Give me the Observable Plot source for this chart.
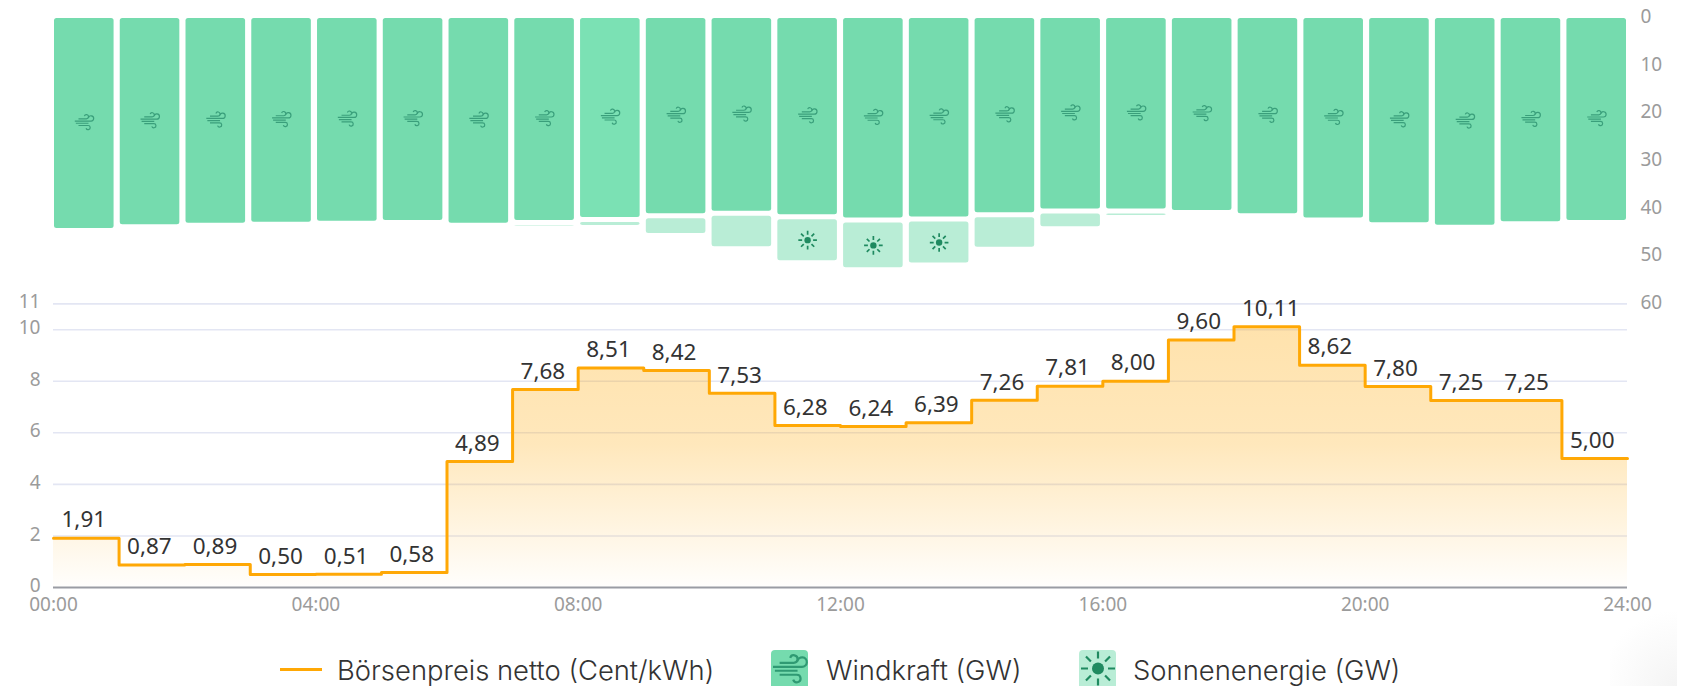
<!DOCTYPE html>
<html lang="de">
<head>
<meta charset="utf-8">
<script src="https://cdn.jsdelivr.net/npm/d3@7"></script>
<script src="https://cdn.jsdelivr.net/npm/@observablehq/plot@0.6"></script>
<style>
  html, body { margin: 0; padding: 0; background: #fff; }
  #chart { position: relative; width: 1688px; height: 686px; overflow: hidden; font-family: "Noto Sans", sans-serif; }
  #chart svg { display: block; }
  #top, #bottom { position: absolute; left: 0; }
  #top { top: 0; }
  #bottom { top: 290px; }
  .lg { position: absolute; top: 650px; height: 40px; line-height: 40px; font-size: 27.4px; font-weight: 300; color: #333; white-space: nowrap; font-family: Inter, sans-serif; }
  .ic { position: absolute; top: 650px; width: 37px; height: 40px; border-radius: 4px; }
  #corner { position: absolute; left: 1610px; top: 610px; width: 67px; height: 76px; background: radial-gradient(circle at 100% 100%, #f4f4f4 0, #fff 75%); }
</style>
</head>
<body>
<div id="chart">
  <div id="corner"></div>
  <div id="top"></div>
  <div id="bottom"></div>
</div>
<script>
const hours = d3.range(24);
const priceValues = [1.91, 0.87, 0.89, 0.50, 0.51, 0.58, 4.89, 7.68, 8.51, 8.42, 7.53, 6.28, 6.24, 6.39, 7.26, 7.81, 8.00, 9.60, 10.11, 8.62, 7.80, 7.25, 7.25, 5.00];
const windValues = [44.1, 43.3, 43.0, 42.8, 42.6, 42.4, 43.0, 42.4, 41.8, 41.0, 40.5, 41.2, 41.9, 41.7, 40.8, 40.0, 40.0, 40.3, 41.0, 41.9, 42.9, 43.4, 42.7, 42.4];
const solarValues = [0, 0, 0, 0, 0, 0, 0, 0.15, 0.6, 3.1, 6.4, 8.6, 9.4, 8.6, 6.2, 2.7, 0.3, 0, 0, 0, 0, 0, 0, 0];
const priceTicks = [0, 2, 4, 6, 8, 10, 11];
const gwTicks = [0, 10, 20, 30, 40, 50, 60];
const timeTicks = [0, 4, 8, 12, 16, 20, 24];
const legendItems = ["Börsenpreis netto (Cent/kWh)", "Windkraft (GW)", "Sonnenenergie (GW)"];

const WIND = "#75dbae", WIND_HI = "#7be1b4", SOLAR = "#b9edd6", ORANGE = "#ffa805";
const FONT = '"Noto Sans", sans-serif';

const rows = hours.map(h => ({h, wind: windValues[h], solar: solarValues[h], price: priceValues[h]}));
const solarRows = rows.filter(d => d.solar > 0);

// Icon shapes as d3 symbol types
const windSymbol = {draw(c, size) {
  const k = Math.sqrt(size / Math.PI) / 9;
  c.moveTo(-5.5 * k, -3 * k); c.lineTo(2 * k, -3 * k);
  c.arc(2 * k, -5 * k, 2 * k, Math.PI / 2, -Math.PI * 0.9, true);
  c.moveTo(-9 * k, -0.9 * k); c.lineTo(6.4 * k, -0.9 * k);
  c.arc(6.4 * k, -3.4 * k, 2.5 * k, Math.PI / 2, -Math.PI * 0.95, true);
  c.moveTo(-8 * k, 1.2 * k); c.lineTo(4 * k, 1.2 * k);
  c.moveTo(-5.5 * k, 3.3 * k); c.lineTo(3.6 * k, 3.3 * k);
  c.arc(3.6 * k, 5.3 * k, 2 * k, -Math.PI / 2, Math.PI * 0.9, false);
}};
const sunSymbol = {draw(c, size) {
  const k = Math.sqrt(size / Math.PI) / 9;
  for (let i = 0; i < 8; ++i) {
    const a = i * Math.PI / 4, s = Math.sin(a), o = Math.cos(a);
    c.moveTo(5.3 * k * o, 5.3 * k * s);
    c.lineTo(9 * k * o, 9 * k * s);
  }
}};

const topPlot = Plot.plot({
  width: 1688, height: 320,
  marginTop: 18, marginBottom: 16.3, marginLeft: 54, marginRight: 62,
  style: {fontFamily: FONT, background: "transparent", overflow: "visible"},
  x: {type: "band", domain: hours, paddingInner: 0.094, paddingOuter: 0, round: false, axis: null},
  y: {domain: [0, 60], reverse: true, axis: null},
  marks: [
    Plot.barY(rows, {x: "h", y1: 0, y2: "wind", fill: d => d.h === 8 ? WIND_HI : WIND, rx: 2.5}),
    Plot.barY(solarRows, {x: "h", y1: "wind", y2: d => d.wind + d.solar, dy: 5, fill: SOLAR, rx: 2.5}),
    Plot.dot(rows, {x: "h", y: d => d.wind / 2, dy: -1.5, symbol: windSymbol, r: 9.5, fill: "none", stroke: "#3a9f7b", strokeWidth: 1.2}),
    Plot.dot(solarRows.filter(d => d.solar >= 8), {x: "h", y: d => d.wind + d.solar / 2, dy: 5, symbol: sunSymbol, r: 9.3, fill: "none", stroke: "#1f8a60", strokeWidth: 1.7}),
    Plot.dot(solarRows.filter(d => d.solar >= 8), {x: "h", y: d => d.wind + d.solar / 2, dy: 5, r: 3.2, fill: "#1f8a60"}),
    Plot.axisY(gwTicks, {anchor: "right", tickSize: 0, tickPadding: 14, dy: -1.5, fontSize: 19, fill: "#9b9b9b", label: null, tickFormat: d => d})
  ]
});
document.getElementById("top").append(topPlot);

const gradient = () => {
  const defs = d3.create("svg:defs");
  const g = defs.append("linearGradient").attr("id", "priceFill").attr("x1", 0).attr("x2", 0).attr("y1", 0).attr("y2", 1);
  [[0, 0.33], [0.45, 0.27], [0.75, 0.13], [1, 0.01]].forEach(([o, a]) =>
    g.append("stop").attr("offset", o).attr("stop-color", ORANGE).attr("stop-opacity", a));
  return defs.node();
};
const stepRows = [...rows, {h: 24, price: priceValues[23]}];

const bottomPlot = Plot.plot({
  width: 1688, height: 340,
  marginTop: 13.4, marginBottom: 43, marginLeft: 53, marginRight: 61,
  style: {fontFamily: FONT, background: "transparent", overflow: "visible"},
  x: {domain: [0, 24], axis: null},
  y: {domain: [0, 11], axis: null},
  marks: [
    gradient,
    Plot.ruleY(priceTicks.filter(d => d > 0), {stroke: "#e3e6f3", strokeWidth: 1.6}),
    Plot.areaY(stepRows, {x: "h", y: "price", curve: "step-after", fill: "url(#priceFill)"}),
    Plot.ruleY([0], {stroke: "#9a9ca3", strokeWidth: 2}),
    Plot.lineY(stepRows, {x: "h", y: "price", curve: "step-after", stroke: ORANGE, strokeWidth: 3, strokeLinejoin: "round"}),
    Plot.text(rows, {x: "h", y: "price", text: d => d.price.toFixed(2).replace(".", ","), textAnchor: "start", dx: 8, dy: -18, fontSize: 22.5, fill: "#333"}),
    Plot.axisY(priceTicks, {anchor: "left", tickSize: 0, tickPadding: 13, dy: -1.5, fontSize: 19, fill: "#9b9b9b", label: null, tickFormat: d => d}),
    Plot.axisX(timeTicks, {anchor: "bottom", tickSize: 0, tickPadding: 10, fontSize: 19, fill: "#9b9b9b", label: null, tickFormat: d => String(d).padStart(2, "0") + ":00"})
  ]
});
document.getElementById("bottom").append(bottomPlot);

// Legend
const chart = document.getElementById("chart");
function addLabel(text, left) {
  const el = document.createElement("div");
  el.className = "lg"; el.style.left = left + "px"; el.textContent = text;
  chart.append(el);
}
const line = document.createElement("div");
line.style.cssText = "position:absolute;left:280px;top:668px;width:42px;height:3px;background:" + ORANGE;
chart.append(line);
addLabel(legendItems[0], 337);
function addIcon(left, bg, symbol, stroke, withCore) {
  const plot = Plot.plot({
    width: 37, height: 40, margin: 0, inset: 0,
    style: {background: "transparent", overflow: "visible"},
    x: {domain: [0, 1], axis: null}, y: {domain: [0, 1], axis: null},
    marks: [
      Plot.dot([0], {x: () => 0.5, y: () => 0.55, symbol, r: 17, fill: "none", stroke, strokeWidth: 2.2}),
      withCore ? Plot.dot([0], {x: () => 0.5, y: () => 0.55, r: 6, fill: stroke}) : null
    ]
  });
  plot.style.position = "absolute"; plot.style.left = left + "px"; plot.style.top = "650px";
  const box = document.createElement("div");
  box.className = "ic"; box.style.left = left + "px"; box.style.background = bg;
  chart.append(box, plot);
}
addIcon(771, WIND, windSymbol, "#2f9a73", false);
addLabel(legendItems[1], 826);
addIcon(1079, SOLAR, sunSymbol, "#1f8a60", true);
addLabel(legendItems[2], 1133);
</script>
</body>
</html>
